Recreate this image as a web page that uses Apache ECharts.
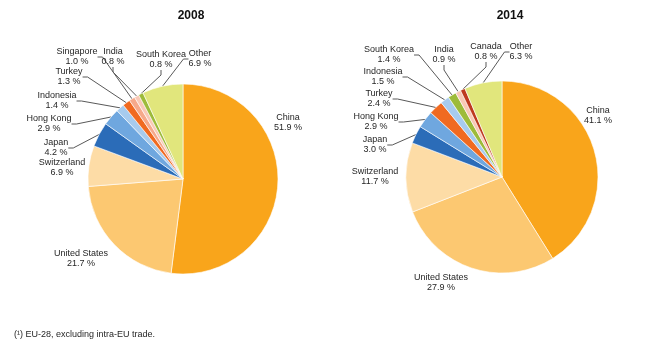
<!DOCTYPE html>
<html>
<head>
<meta charset="utf-8">
<script src="https://cdn.jsdelivr.net/npm/echarts@6/dist/echarts.min.js"></script>
<style>
  html, body { margin: 0; padding: 0; background: #fff; }
  #chart { width: 661px; height: 340px; }
</style>
</head>
<body>
<div id="chart"></div>
<script>
// Partner shares of extra-EU trade, in %
const names2008 = ['China', 'United States', 'Switzerland', 'Japan', 'Hong Kong', 'Indonesia',
                   'Turkey', 'Singapore', 'India', 'South Korea', 'Other'];
const values2008 = [51.9, 21.7, 6.9, 4.2, 2.9, 1.4, 1.3, 1.0, 0.8, 0.8, 6.9];

const names2014 = ['China', 'United States', 'Switzerland', 'Japan', 'Hong Kong', 'Turkey',
                   'Indonesia', 'South Korea', 'India', 'Canada', 'Other'];
const values2014 = [41.1, 27.9, 11.7, 3.0, 2.9, 2.4, 1.5, 1.4, 0.9, 0.8, 6.3];

const titles = ['2008', '2014'];
const footnote = '(¹) EU-28, excluding intra-EU trade.';

// Fixed colour per partner so both years read the same way
const partnerColors = {
  'China': '#F9A51B',
  'United States': '#FCC871',
  'Switzerland': '#FDDCA6',
  'Japan': '#2B6CB8',
  'Hong Kong': '#6FA7DF',
  'Indonesia': '#A7CBEE',
  'Turkey': '#F06A21',
  'Singapore': '#F6A98A',
  'India': '#F9C9B6',
  'South Korea': '#9DBB3A',
  'Canada': '#BE3A1F',
  'Other': '#E1E67C'
};

// Large slices carry their label right beside them, without a leader line
const noLeader = ['China', 'United States', 'Switzerland'];

// Label block centres (px), per partner
const labelSpots2008 = {
  'China': [288, 123], 'United States': [81, 259], 'Switzerland': [62, 168],
  'Japan': [56, 148], 'Hong Kong': [49, 124], 'Indonesia': [57, 101],
  'Turkey': [69, 77], 'Singapore': [77, 57], 'India': [113, 57],
  'South Korea': [161, 60], 'Other': [200, 59]
};
const labelSpots2014 = {
  'China': [598, 116], 'United States': [441, 283], 'Switzerland': [375, 177],
  'Japan': [375, 145], 'Hong Kong': [376, 122], 'Turkey': [379, 99],
  'Indonesia': [383, 77], 'South Korea': [389, 55], 'India': [444, 55],
  'Canada': [486, 52], 'Other': [521, 52]
};

const FONT = '"Liberation Sans", Arial, sans-serif';

function buildData(names, values) {
  return names.map(function (n, i) {
    const item = { name: n, value: values[i], itemStyle: { color: partnerColors[n] } };
    if (noLeader.indexOf(n) >= 0) item.labelLine = { show: false };
    return item;
  });
}

function pieSeries(names, values, center, radius, spots) {
  return {
    type: 'pie',
    center: center,
    radius: radius,
    startAngle: 90,
    clockwise: true,
    animation: false,
    silent: true,
    data: buildData(names, values),
    itemStyle: { borderColor: '#ffffff', borderWidth: 0.6 },
    label: {
      show: true,
      position: 'outer',
      formatter: function (p) { return p.name + '\n' + p.value.toFixed(1) + ' %'; },
      fontFamily: FONT,
      fontSize: 9,
      lineHeight: 10,
      color: '#262626'
    },
    labelLine: {
      show: true,
      length: 4,
      length2: 5,
      smooth: false,
      lineStyle: { color: '#595959', width: 1 }
    },
    labelLayout: function (p) {
      const s = spots[names[p.dataIndex]];
      return { x: s[0], y: s[1], align: 'center', verticalAlign: 'middle' };
    }
  };
}

const chart = echarts.init(document.getElementById('chart'), null, { renderer: 'canvas' });
chart.setOption({
  backgroundColor: '#ffffff',
  animation: false,
  title: [
    { text: titles[0], left: 186, top: 5, textAlign: 'center',
      textStyle: { fontFamily: FONT, fontSize: 12, fontWeight: 'bold', color: '#111' } },
    { text: titles[1], left: 505, top: 5, textAlign: 'center',
      textStyle: { fontFamily: FONT, fontSize: 12, fontWeight: 'bold', color: '#111' } },
    { text: footnote, left: 9, top: 325,
      textStyle: { fontFamily: FONT, fontSize: 9, fontWeight: 'normal', color: '#262626' } }
  ],
  series: [
    pieSeries(names2008, values2008, [183, 179], 95, labelSpots2008),
    pieSeries(names2014, values2014, [502, 177], 96, labelSpots2014)
  ]
});
</script>
</body>
</html>
